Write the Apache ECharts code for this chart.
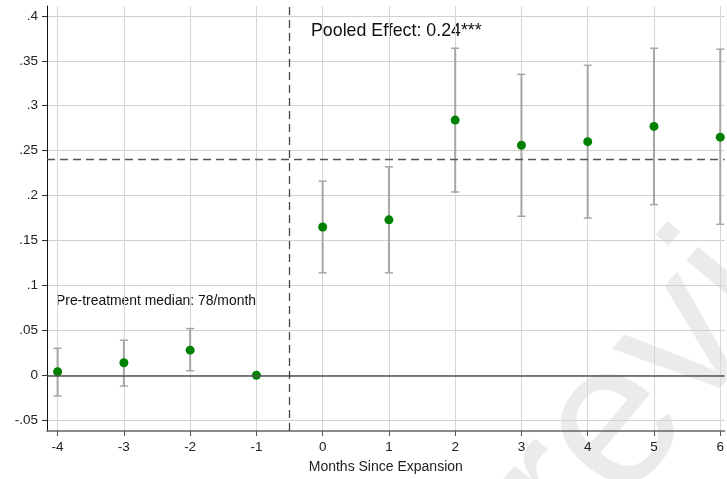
<!DOCTYPE html>
<html>
<head>
<meta charset="utf-8">
<script src="https://cdn.jsdelivr.net/npm/echarts@6/dist/echarts.min.js"></script>
<style>
html, body { margin: 0; padding: 0; background: #fff; }
#main { width: 727px; height: 479px; }
</style>
</head>
<body>
<div id="main"></div>
<script>
// event-study estimates
var months = [-4, -3, -2, -1, 0, 1, 2, 3, 4, 5, 6];
var coef   = [0.004, 0.014, 0.028, 0, 0.165, 0.173, 0.284, 0.256, 0.260, 0.277, 0.265];
var ciLow  = [-0.023, -0.012, 0.005, null, 0.114, 0.114, 0.204, 0.177, 0.175, 0.190, 0.168];
var ciHigh = [0.030, 0.039, 0.052, null, 0.216, 0.232, 0.364, 0.335, 0.345, 0.364, 0.363];
var yTicks = [-0.05, 0, 0.05, 0.1, 0.15, 0.2, 0.25, 0.3, 0.35, 0.4];
var pooled = 0.24;
var cutoff = -0.5;

var myChart = echarts.init(document.getElementById('main'));

// points and error bar data
var pointData = [];
var barData = [];
months.forEach(function (m, i) {
	pointData.push([m, coef[i]]);
	if (ciLow[i] !== null) barData.push([m, ciLow[i], ciHigh[i]]);
});

function fmtY(v) {
	if (v === 0) return '0';
	var s = String(Math.round(v * 100) / 100);
	return s.replace('0.', '.');
}

var font = '"Liberation Sans", Arial, sans-serif';

var option = {
	backgroundColor: '#fff',
	animation: false,
	grid: { left: 47, right: 0, top: 6, bottom: 45 },
	xAxis: {
		type: 'value',
		min: -4.16,
		max: 6.065,
		name: 'Months Since Expansion',
		nameLocation: 'middle',
		nameGap: 29,
		nameTextStyle: { color: '#222', fontSize: 14, fontFamily: font },
		axisLine: { show: true, onZero: false, lineStyle: { color: '#666', width: 1.5 } },
		axisTick: { show: true, length: 5, lineStyle: { color: '#555' }, customValues: months },
		axisLabel: { color: '#222', fontSize: 13.5, fontFamily: font, margin: 9, customValues: months },
		splitLine: { show: true, lineStyle: { color: '#d6d6d6', width: 1 } }
	},
	yAxis: {
		type: 'value',
		min: -0.062,
		max: 0.411,
		axisLine: { show: true, onZero: false, lineStyle: { color: '#111', width: 1 } },
		axisTick: { show: true, length: 5, lineStyle: { color: '#333' }, customValues: yTicks },
		axisLabel: { color: '#222', fontSize: 13.5, fontFamily: font, margin: 9, customValues: yTicks, formatter: fmtY },
		splitLine: { show: true, lineStyle: { color: '#d0d0d0', width: 1 } }
	},
	graphic: [
		// faint watermark
		{
			type: 'text', x: 610, y: 432, rotation: 50 * Math.PI / 180, silent: true,
			style: { text: 'review', x: -118, y: 0, verticalAlign: 'middle', font: '205px "Liberation Sans", Arial, sans-serif', fill: 'rgba(0,0,0,0.08)' }
		},
		{ type: 'text', left: 311, top: 22, style: { text: 'Pooled Effect: 0.24***', font: '17.8px "Liberation Sans", Arial, sans-serif', fill: '#111' } },
		{ type: 'text', left: 56, top: 294, style: { text: 'Pre-treatment median: 78/month', font: '13.9px "Liberation Sans", Arial, sans-serif', fill: '#111' } }
	],
	series: [
		{
			type: 'line',
			data: [],
			markLine: {
				silent: true,
				symbol: 'none',
				label: { show: false },
				data: [
					{ yAxis: 0, lineStyle: { color: '#555', width: 1.6, type: 'solid' } },
					{ yAxis: pooled, lineStyle: { color: '#555', width: 1.3, type: [8, 5] } },
					{ xAxis: cutoff, lineStyle: { color: '#444', width: 1.3, type: [8, 5] } }
				]
			}
		},
		{
			type: 'custom',
			data: barData,
			z: 3,
			renderItem: function (params, api) {
				var lo = api.coord([api.value(0), api.value(1)]);
				var hi = api.coord([api.value(0), api.value(2)]);
				var cap = 4;
				var st = { stroke: '#a6a6a6', lineWidth: 2 };
				var stc = { stroke: '#a6a6a6', lineWidth: 1.5 };
				return {
					type: 'group',
					children: [
						{ type: 'line', shape: { x1: lo[0], y1: lo[1], x2: hi[0], y2: hi[1] }, style: st },
						{ type: 'line', shape: { x1: lo[0] - cap, y1: lo[1], x2: lo[0] + cap, y2: lo[1] }, style: stc },
						{ type: 'line', shape: { x1: hi[0] - cap, y1: hi[1], x2: hi[0] + cap, y2: hi[1] }, style: stc }
					]
				};
			}
		},
		{
			type: 'scatter',
			data: pointData,
			symbol: 'circle',
			symbolSize: 9,
			z: 4,
			itemStyle: { color: '#008000', opacity: 1 }
		}
	]
};
myChart.setOption(option);
</script>
</body>
</html>
